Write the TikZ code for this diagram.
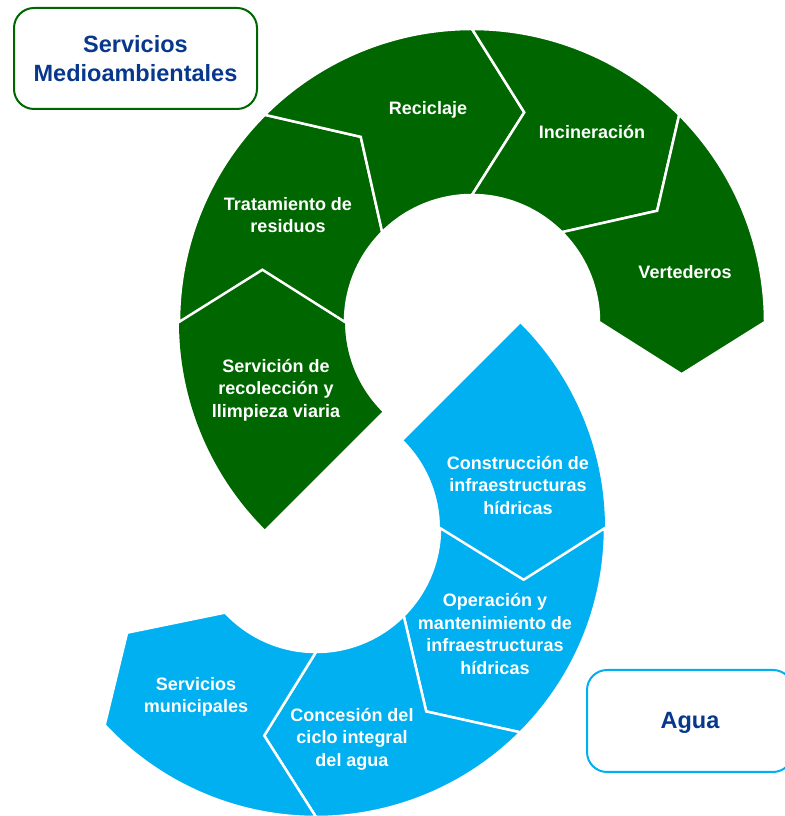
\documentclass[tikz,border=0pt]{standalone}
\usepackage{fontspec}
\setmainfont{Liberation Sans}
\definecolor{envgreen}{RGB}{0,102,0}
\definecolor{waterblue}{RGB}{0,176,240}
\definecolor{navy}{RGB}{8,56,140}
\begin{document}
\begin{tikzpicture}[x=1pt,y=1pt,
  segfill/.style={line width=2.5pt,draw=white,line join=miter},
  lbl/.style={text=white,font=\bfseries\fontsize{18}{22.5}\selectfont,align=center,inner sep=0pt},
  ttl/.style={text=navy,align=center,inner sep=0pt,font=\bfseries\fontsize{23.5}{29}\selectfont},
  titlebox/.style={rounded corners=20pt,line width=2pt,fill=white}]
\useasboundingbox (0,0) rectangle (784,816);

% green ring
\begin{scope}[shift={(472pt,494pt)}]
\fill[envgreen] (225:293pt) arc[start angle=225,end angle=180,radius=293pt] -- (166:216pt) -- (180:127pt) arc[start angle=180,end angle=225,radius=127pt] -- cycle;
\filldraw[envgreen,segfill] (180:293pt) arc[start angle=180,end angle=135,radius=293pt] -- (121:216pt) -- (135:127pt) arc[start angle=135,end angle=180,radius=127pt] -- (166:216pt) -- cycle;
\filldraw[envgreen,segfill] (135:293pt) arc[start angle=135,end angle=90,radius=293pt] -- (76:216pt) -- (90:127pt) arc[start angle=90,end angle=135,radius=127pt] -- (121:216pt) -- cycle;
\filldraw[envgreen,segfill] (90:293pt) arc[start angle=90,end angle=45,radius=293pt] -- (31:216pt) -- (45:127pt) arc[start angle=45,end angle=90,radius=127pt] -- (76:216pt) -- cycle;
\filldraw[envgreen,segfill] (45:293pt) arc[start angle=45,end angle=0,radius=293pt] -- (-14:216pt) -- (0:127pt) arc[start angle=0,end angle=45,radius=127pt] -- (31:216pt) -- cycle;
\end{scope}

% blue ring
\begin{scope}[shift={(316pt,288pt)}]
\fill[waterblue] (45:289pt) arc[start angle=45,end angle=0,radius=289pt] -- (-14:214pt) -- (0:124pt) arc[start angle=0,end angle=45,radius=124pt] -- cycle;
\filldraw[waterblue,segfill] (0:289pt) arc[start angle=0,end angle=-45,radius=289pt] -- (-59:214pt) -- (-45:124pt) arc[start angle=-45,end angle=0,radius=124pt] -- (-14:214pt) -- cycle;
\filldraw[waterblue,segfill] (-45:289pt) arc[start angle=-45,end angle=-90,radius=289pt] -- (-104:214pt) -- (-90:124pt) arc[start angle=-90,end angle=-45,radius=124pt] -- (-59:214pt) -- cycle;
\filldraw[waterblue,segfill] (-90:289pt) arc[start angle=-90,end angle=-137,radius=289pt] -- (-151:216pt) -- (-137:124pt) arc[start angle=-137,end angle=-90,radius=124pt] -- (-104:214pt) -- cycle;
\end{scope}

% labels
\node[lbl] (serv) at (276,426) {Servición de\\recolección y\\llimpieza viaria};
\node[lbl] (trat) at (288,601) {Tratamiento de\\residuos};
\node[lbl] (reci) at (428,706) {Reciclaje};
\node[lbl] (inci) at (592,684) {Incineración};
\node[lbl] (vert) at (685,544) {Vertederos};
\node[lbl] (cons) at (518,331) {Construcción de\\infraestructuras\\hídricas};
\node[lbl] (oper) at (495,182) {Operación y\\mantenimiento de\\infraestructuras\\hídricas};
\node[lbl] (conc) at (352,77) {Concesión del\\ciclo integral\\del agua};
\node[lbl] (muni) at (196,119) {Servicios\\municipales};

% title boxes
\draw[titlebox,draw=envgreen] (14,808) rectangle (257,707);
\node[ttl] (tmed) at (135.5,757.5) {Servicios\\Medioambientales};
\draw[titlebox,draw=waterblue] (587,146) rectangle (793,44);
\node[ttl] (tagua) at (690,93) {Agua};
\end{tikzpicture}
\end{document}
